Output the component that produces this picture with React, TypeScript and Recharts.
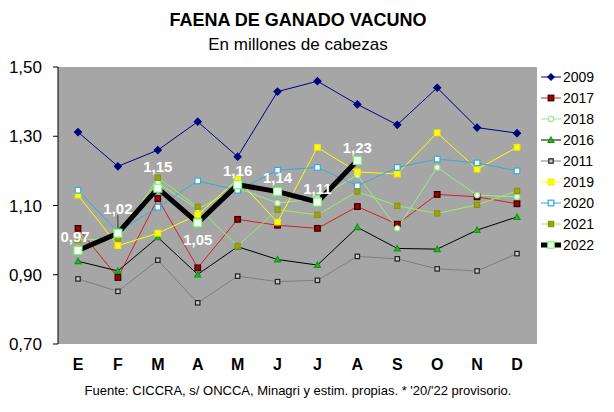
import React from "react";
import { LineChart, Line, XAxis, YAxis, CartesianGrid, LabelList } from "recharts";

document.body.style.margin = "0";

// months (Spanish initials)
const months = ["E", "F", "M", "A", "M", "J", "J", "A", "S", "O", "N", "D"];

// slaughter, millions of head
const y2009 = [1.312, 1.213, 1.26, 1.342, 1.241, 1.429, 1.459, 1.392, 1.333, 1.44, 1.325, 1.309];
const y2017 = [1.034, 0.892, 1.12, 0.92, 1.06, 1.043, 1.034, 1.097, 1.046, 1.132, 1.125, 1.105];
const y2018 = [0.975, 1.02, 1.165, 1.09, 1.15, 1.107, 1.12, 1.188, 1.034, 1.21, 1.13, 1.125];
const y2016 = [0.939, 0.911, 1.008, 0.901, 0.981, 0.944, 0.928, 1.037, 0.976, 0.974, 1.029, 1.067];
const y2011 = [0.888, 0.852, 0.942, 0.819, 0.896, 0.88, 0.884, 0.953, 0.946, 0.917, 0.911, 0.961];
const y2019 = [1.13, 0.984, 1.02, 1.073, 1.175, 1.052, 1.268, 1.197, 1.191, 1.31, 1.205, 1.268];
const y2020 = [1.144, 1.024, 1.095, 1.171, 1.144, 1.202, 1.21, 1.157, 1.21, 1.234, 1.223, 1.2];
const y2021 = [1.0, 1.005, 1.18, 1.096, 0.983, 1.088, 1.073, 1.14, 1.099, 1.077, 1.102, 1.142];
const y2022 = [0.97, 1.02, 1.15, 1.05, 1.16, 1.14, 1.11, 1.23, null, null, null, null];

const yTicks = [0.7, 0.9, 1.1, 1.3, 1.5];
const monthEdges = [0, 1, 2, 3, 4, 5, 6, 7, 8, 9, 10, 11, 12];

const FONT = '"Liberation Sans", Arial, sans-serif';

type MarkerKind = "diamond" | "square" | "circle" | "triangle";

interface SeriesDef {
  key: string;
  name: string;
  values: (number | null)[];
  stroke: string;
  width: number;
  marker: MarkerKind;
  size: number;
  fill: string;
  edge: string;
}

const SERIES: SeriesDef[] = [
  { key: "s2009", name: "2009", values: y2009, stroke: "#000080", width: 1, marker: "diamond", size: 3.5, fill: "#000080", edge: "#000080" },
  { key: "s2017", name: "2017", values: y2017, stroke: "#D42020", width: 1, marker: "square", size: 2.8, fill: "#A00000", edge: "#300000" },
  { key: "s2018", name: "2018", values: y2018, stroke: "#99EE88", width: 1, marker: "circle", size: 2.6, fill: "#FFFFFF", edge: "#99EE88" },
  { key: "s2016", name: "2016", values: y2016, stroke: "#000000", width: 1, marker: "triangle", size: 3, fill: "#22BB22", edge: "#119911" },
  { key: "s2011", name: "2011", values: y2011, stroke: "#7F7F7F", width: 1, marker: "square", size: 2.2, fill: "#C8C8C8", edge: "#222222" },
  { key: "s2019", name: "2019", values: y2019, stroke: "#FFFF00", width: 1, marker: "square", size: 2.8, fill: "#FFFF00", edge: "#EEEE00" },
  { key: "s2020", name: "2020", values: y2020, stroke: "#33AADD", width: 1, marker: "square", size: 2.8, fill: "#FFFFFF", edge: "#33AADD" },
  { key: "s2021", name: "2021", values: y2021, stroke: "#99EE66", width: 1, marker: "square", size: 2.6, fill: "#A0A020", edge: "#889900" },
  { key: "s2022", name: "2022", values: y2022, stroke: "#000000", width: 5, marker: "square", size: 4, fill: "#FFFFFF", edge: "#66FF66" },
];

const data = months.map((m, i) => {
  const row: Record<string, string | number | null> = { month: m };
  SERIES.forEach((s) => (row[s.key] = s.values[i]));
  return row;
});

function Marker({ s, cx, cy }: { s: SeriesDef; cx: number; cy: number }) {
  const r = s.size;
  const common = { fill: s.fill, stroke: s.edge, strokeWidth: 1.2 };
  if (s.marker === "diamond")
    return <polygon points={`${cx},${cy - r} ${cx + r},${cy} ${cx},${cy + r} ${cx - r},${cy}`} {...common} />;
  if (s.marker === "circle") return <circle cx={cx} cy={cy} r={r} {...common} />;
  if (s.marker === "triangle")
    return <polygon points={`${cx},${cy - r} ${cx + r},${cy + r * 0.8} ${cx - r},${cy + r * 0.8}`} {...common} />;
  return <rect x={cx - r} y={cy - r} width={r * 2} height={r * 2} {...common} />;
}

const makeDot = (s: SeriesDef) => (props: any) => {
  const { cx, cy, index } = props;
  if (cx == null || cy == null || props.value == null) return <g key={`${s.key}-${index}`} />;
  return (
    <g key={`${s.key}-${index}`}>
      <Marker s={s} cx={cx} cy={cy} />
    </g>
  );
};

// where each 2022 value label sits relative to its point
const LABEL_OFFSETS = [
  [-3, -14], [0, -25], [0, -22], [0, 17], [0, -14], [0, -14], [0, -14], [0, -13],
];

const ValueLabel = (props: any) => {
  const { x, y, value, index } = props;
  if (value == null || x == null || y == null) return null;
  const [dx, dy] = LABEL_OFFSETS[index] || [0, -14];
  return (
    <g>
      {index === 1 && <line x1={x} x2={x} y1={y + dy + 7} y2={y - 5} stroke="#333" strokeWidth={1} />}
      <text
        x={x + dx}
        y={y + dy}
        textAnchor="middle"
        dominantBaseline="central"
        fill="#FFFFFF"
        fontWeight="bold"
        fontSize={15}
        fontFamily={FONT}
      >
        {value.toFixed(2).replace(".", ",")}
      </text>
    </g>
  );
};

function LegendBox() {
  return (
    <div style={{ position: "absolute", left: 541, top: 66, fontFamily: FONT, fontSize: 14 }}>
      {SERIES.map((s) => (
        <div key={s.key} style={{ height: 21, display: "flex", alignItems: "center" }}>
          <svg width={21} height={14} style={{ marginRight: 1 }}>
            <line x1={0} x2={20} y1={7} y2={7} stroke={s.stroke} strokeWidth={s.width} />
            <Marker s={{ ...s, size: Math.min(s.size, 3.2) }} cx={10} cy={7} />
          </svg>
          <span>{s.name}</span>
        </div>
      ))}
    </div>
  );
}

export default function App() {
  return (
    <div style={{ position: "relative", width: 614, height: 412, background: "#fff", fontFamily: FONT }}>
      <div style={{ position: "absolute", left: 0, width: 596, top: 9, textAlign: "center", lineHeight: "22px" }}>
        <div style={{ fontSize: 18, fontWeight: "bold" }}>FAENA DE GANADO VACUNO</div>
        <div style={{ fontSize: 17, marginTop: 3 }}>En millones de cabezas</div>
      </div>
      <LineChart width={614} height={412} data={data} margin={{ top: 67, right: 77, bottom: 38, left: 0 }}>
        <CartesianGrid fill="#A6A6A6" horizontal={false} vertical={false} />
        <XAxis
          xAxisId="edges"
          type="number"
          dataKey={() => 0}
          domain={[0, 12]}
          ticks={monthEdges}
          tick={false}
          height={0}
          tickSize={6}
          axisLine={{ stroke: "#555", strokeWidth: 2 }}
          tickLine={{ stroke: "#333" }}
        />
        <XAxis
          dataKey="month"
          height={30}
          padding={{ left: 20, right: 20 }}
          axisLine={false}
          tickLine={false}
          tickSize={6}
          tickMargin={9}
          interval={0}
          tick={{ fill: "#000", fontSize: 16, fontWeight: "bold", fontFamily: FONT }}
        />
        <YAxis
          domain={[0.7, 1.5]}
          ticks={yTicks}
          width={58}
          tickSize={5}
          tickMargin={11}
          axisLine={{ stroke: "#000" }}
          tickLine={{ stroke: "#000" }}
          tickFormatter={(v: number) => v.toFixed(2).replace(".", ",")}
          tick={{ fill: "#000", fontSize: 17, fontFamily: FONT }}
        />
        {SERIES.map((s) => (
          <Line
            key={s.key}
            dataKey={s.key}
            name={s.name}
            type="linear"
            stroke={s.stroke}
            strokeWidth={s.width}
            dot={makeDot(s)}
            activeDot={false}
            connectNulls={false}
            isAnimationActive={false}
          >
            {s.key === "s2022" && <LabelList dataKey={s.key} content={ValueLabel} />}
          </Line>
        ))}
      </LineChart>
      <LegendBox />
      <div
        style={{
          position: "absolute",
          left: 0,
          width: 596,
          top: 382,
          textAlign: "center",
          fontSize: 13,
          lineHeight: "18px",
        }}
      >
        Fuente: CICCRA, s/ ONCCA, Minagri y estim. propias. * '20/'22 provisorio.
      </div>
    </div>
  );
}
